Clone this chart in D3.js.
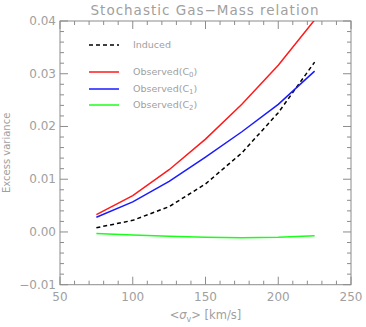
<!DOCTYPE html>
<html>
<head>
<meta charset="utf-8">
<script src="https://cdn.jsdelivr.net/npm/d3@7"></script>
<style>
  body { margin: 0; background: #fff; }
  svg { display: block; }
  text { font-family: "DejaVu Sans", sans-serif; fill: #a0a0a0; }
</style>
</head>
<body>
<svg width="366" height="327"></svg>
<script>
// data
var sigma = [75, 100, 125, 150, 175, 200, 225];
var induced = [0.0008, 0.0022, 0.0048, 0.0091, 0.0150, 0.0226, 0.0322];
var obsC0 = [0.0033, 0.0069, 0.0118, 0.0176, 0.0242, 0.0316, 0.0402];
var obsC1 = [0.0028, 0.0057, 0.0096, 0.0142, 0.0190, 0.0242, 0.0305];
var obsC2 = [-0.0003, -0.0006, -0.0008, -0.0010, -0.0011, -0.0010, -0.0007];
var xTicks = [50, 100, 150, 200, 250];
var yTicks = [-0.01, 0.00, 0.01, 0.02, 0.03, 0.04];

var series = [
  {name: "Induced", sub: null, values: induced, color: "#000", dash: "4,3"},
  {name: "Observed(C", sub: "0", values: obsC0, color: "#ff1a1a", dash: null},
  {name: "Observed(C", sub: "1", values: obsC1, color: "#1a1aff", dash: null},
  {name: "Observed(C", sub: "2", values: obsC2, color: "#1aff1a", dash: null}
];

var svg = d3.select("svg");
// plot box (window.top is reserved, so use other names)
var pL = 60, pR = 351, pT = 21, pB = 284.7;

var x = d3.scaleLinear().domain([50, 250]).range([pL, pR]);
var y = d3.scaleLinear().domain([-0.01, 0.04]).range([pB, pT]);

var axisCol = "#8c8c8c";

// box
svg.append("rect")
  .attr("x", pL).attr("y", pT)
  .attr("width", pR - pL).attr("height", pB - pT)
  .attr("fill", "none").attr("stroke", axisCol).attr("stroke-width", 1);

// ticks on all sides, pointing in
var xMinor = d3.range(50, 251, 10);
var yMinor = d3.range(-0.01, 0.0401, 0.002);
var tk = svg.append("g").attr("stroke", axisCol).attr("stroke-width", 1);
xMinor.forEach(function(v) {
  var major = Math.abs(v % 50) < 1e-6;
  var len = major ? 8 : 4;
  tk.append("line").attr("x1", x(v)).attr("x2", x(v)).attr("y1", pB).attr("y2", pB - len);
  tk.append("line").attr("x1", x(v)).attr("x2", x(v)).attr("y1", pT).attr("y2", pT + len);
});
yMinor.forEach(function(v) {
  var major = Math.abs(Math.round(v * 1000) % 10) === 0;
  var len = major ? 8 : 4;
  tk.append("line").attr("y1", y(v)).attr("y2", y(v)).attr("x1", pL).attr("x2", pL + len);
  tk.append("line").attr("y1", y(v)).attr("y2", y(v)).attr("x1", pR).attr("x2", pR - len);
});

// tick labels
svg.selectAll(".xl").data(xTicks).enter().append("text")
  .attr("x", function(d) { return x(d); })
  .attr("y", pB + 16)
  .attr("text-anchor", "middle")
  .attr("font-size", 12)
  .text(function(d) { return d; });

svg.selectAll(".yl").data(yTicks).enter().append("text")
  .attr("x", pL - 4)
  .attr("y", function(d) { return y(d) + 4; })
  .attr("text-anchor", "end")
  .attr("font-size", 12)
  .text(function(d) { return d.toFixed(2).replace("-", "\u2212"); });

// title
svg.append("text")
  .attr("x", 205).attr("y", 15)
  .attr("text-anchor", "middle")
  .attr("font-size", 13.5)
  .attr("letter-spacing", 1)
  .text("Stochastic Gas\u2212Mass relation");

// axis titles
var xt = svg.append("text")
  .attr("x", x(150)).attr("y", pB + 34)
  .attr("text-anchor", "middle")
  .attr("font-size", 11.5);
xt.append("tspan").text("<");
xt.append("tspan").attr("font-style", "italic").text("\u03c3");
xt.append("tspan").attr("font-size", 8).attr("dy", 3).text("v");
xt.append("tspan").attr("dy", -3).text("> [km/s]");

svg.append("text")
  .attr("transform", "translate(10," + ((pT + pB) / 2) + ") rotate(-90)")
  .attr("text-anchor", "middle")
  .attr("font-size", 10)
  .text("Excess variance");

// lines
var line = d3.line()
  .x(function(d, i) { return x(sigma[i]); })
  .y(function(d) { return y(d); });

svg.append("clipPath").attr("id", "clip").append("rect")
  .attr("x", pL).attr("y", pT).attr("width", pR - pL).attr("height", pB - pT);

svg.append("g").attr("clip-path", "url(#clip)")
  .selectAll("path").data(series).enter().append("path")
  .attr("d", function(s) { return line(s.values); })
  .attr("fill", "none")
  .attr("stroke", function(s) { return s.color; })
  .attr("stroke-width", 1.5)
  .attr("stroke-dasharray", function(s) { return s.dash; });

// legend
var legY = [45, 72, 89, 105];
var leg = svg.selectAll(".leg").data(series).enter().append("g")
  .attr("transform", function(d, i) { return "translate(89," + legY[i] + ")"; });
leg.append("line")
  .attr("x1", 0).attr("x2", 30).attr("y1", 0).attr("y2", 0)
  .attr("stroke", function(s) { return s.color; })
  .attr("stroke-width", 1.5)
  .attr("stroke-dasharray", function(s) { return s.dash; });
var lt = leg.append("text")
  .attr("x", 44).attr("y", 3)
  .attr("font-size", 9.5);
lt.append("tspan").text(function(s) { return s.name; });
lt.filter(function(s) { return s.sub; }).append("tspan")
  .attr("font-size", 7).attr("dy", 2).text(function(s) { return s.sub; });
lt.filter(function(s) { return s.sub; }).append("tspan")
  .attr("dy", -2).text(")");
</script>
</body>
</html>
